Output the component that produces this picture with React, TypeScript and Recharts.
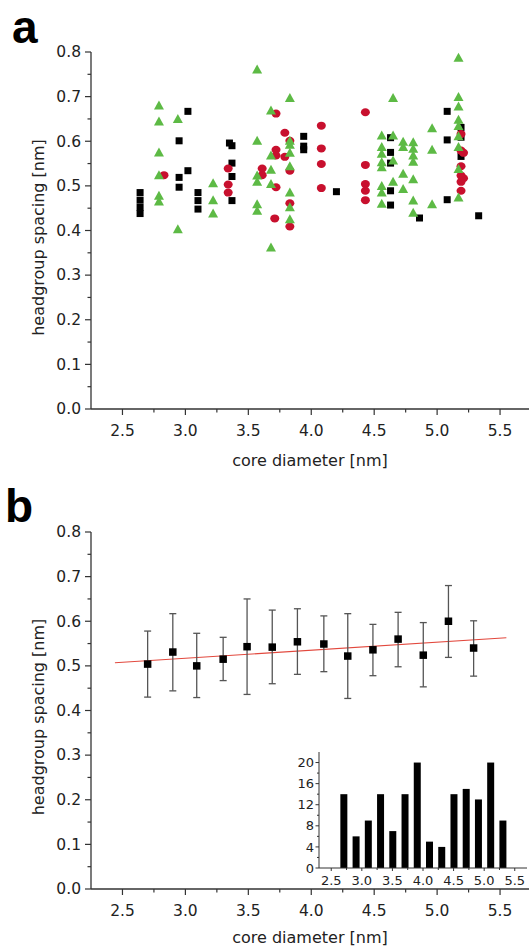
import React from 'react'
import { ScatterChart, Scatter, XAxis, YAxis, ErrorBar, ReferenceLine, BarChart, Bar } from 'recharts'

// panel a – black squares
const sqX = [2.64, 2.64, 2.64, 2.64, 2.95, 2.95, 2.95, 3.02, 3.02, 3.1, 3.1, 3.1, 3.35, 3.37, 3.37, 3.37, 3.37, 3.94, 3.94, 3.94, 4.2, 4.63, 4.63, 4.63, 4.63, 4.63, 4.86, 5.08, 5.08, 5.08, 5.19, 5.19, 5.19, 5.33]
const sqY = [0.485, 0.468, 0.452, 0.438, 0.601, 0.519, 0.497, 0.667, 0.534, 0.485, 0.467, 0.448, 0.596, 0.59, 0.551, 0.521, 0.467, 0.611, 0.589, 0.581, 0.487, 0.608, 0.575, 0.551, 0.489, 0.457, 0.428, 0.667, 0.603, 0.469, 0.631, 0.609, 0.566, 0.433]

// panel a – green triangles
const triX = [2.79, 2.79, 2.79, 2.79, 2.79, 2.79, 2.94, 2.94, 3.22, 3.22, 3.22, 3.57, 3.57, 3.57, 3.57, 3.57, 3.57, 3.68, 3.68, 3.68, 3.68, 3.68, 3.83, 3.83, 3.83, 3.83, 3.83, 3.83, 3.83, 3.83, 4.56, 4.56, 4.56, 4.56, 4.56, 4.56, 4.56, 4.56, 4.65, 4.65, 4.65, 4.65, 4.73, 4.73, 4.73, 4.73, 4.81, 4.81, 4.81, 4.81, 4.81, 4.81, 4.81, 4.96, 4.96, 4.96, 5.17, 5.17, 5.17, 5.17, 5.17, 5.17, 5.17, 5.17, 5.17]
const triY = [0.68, 0.644, 0.575, 0.524, 0.478, 0.465, 0.65, 0.403, 0.506, 0.468, 0.438, 0.761, 0.601, 0.523, 0.509, 0.459, 0.444, 0.669, 0.568, 0.536, 0.504, 0.362, 0.697, 0.601, 0.592, 0.574, 0.544, 0.485, 0.452, 0.425, 0.613, 0.587, 0.572, 0.553, 0.542, 0.5, 0.485, 0.46, 0.697, 0.613, 0.557, 0.509, 0.599, 0.587, 0.527, 0.493, 0.598, 0.583, 0.568, 0.554, 0.515, 0.467, 0.44, 0.629, 0.581, 0.459, 0.787, 0.699, 0.678, 0.648, 0.634, 0.611, 0.587, 0.538, 0.474]

// panel a – red circles
const cirX = [2.83, 3.34, 3.34, 3.34, 3.61, 3.61, 3.72, 3.72, 3.72, 3.72, 3.71, 3.79, 3.79, 3.83, 3.83, 3.83, 3.83, 4.08, 4.08, 4.08, 4.08, 4.43, 4.43, 4.43, 4.43, 4.43, 5.19, 5.19, 5.19, 5.19, 5.19, 5.19, 5.21, 5.21]
const cirY = [0.524, 0.539, 0.503, 0.485, 0.539, 0.524, 0.662, 0.581, 0.568, 0.497, 0.427, 0.619, 0.565, 0.601, 0.534, 0.461, 0.409, 0.635, 0.584, 0.549, 0.495, 0.665, 0.547, 0.504, 0.489, 0.468, 0.616, 0.579, 0.544, 0.523, 0.509, 0.489, 0.517, 0.574]

// panel b – binned means with error bars
const binX = [2.7, 2.9, 3.09, 3.3, 3.49, 3.69, 3.89, 4.1, 4.29, 4.49, 4.69, 4.89, 5.09, 5.29]
const binMean = [0.504, 0.531, 0.5, 0.515, 0.543, 0.542, 0.554, 0.549, 0.522, 0.536, 0.56, 0.524, 0.6, 0.54]
const binHigh = [0.578, 0.617, 0.573, 0.564, 0.65, 0.625, 0.628, 0.612, 0.617, 0.593, 0.62, 0.597, 0.68, 0.601]
const binLow = [0.43, 0.444, 0.429, 0.467, 0.436, 0.46, 0.481, 0.487, 0.427, 0.478, 0.498, 0.453, 0.519, 0.477]

// linear fit end points
const fitX = [2.44, 5.55]
const fitY = [0.507, 0.563]

// inset histogram
const histX = [2.7, 2.9, 3.1, 3.3, 3.5, 3.7, 3.9, 4.1, 4.3, 4.5, 4.7, 4.9, 5.1, 5.3]
const histN = [14, 6, 9, 14, 7, 14, 20, 5, 4, 14, 15, 13, 20, 9]

// ticks
const yTicks = [0, 0.05, 0.1, 0.15, 0.2, 0.25, 0.3, 0.35, 0.4, 0.45, 0.5, 0.55, 0.6, 0.65, 0.7, 0.75, 0.8]
const xTicks = [2.5, 2.75, 3.0, 3.25, 3.5, 3.75, 4.0, 4.25, 4.5, 4.75, 5.0, 5.25, 5.5]
const insetXTicks = [2.5, 2.75, 3.0, 3.25, 3.5, 3.75, 4.0, 4.25, 4.5, 4.75, 5.0, 5.25, 5.5]
const insetYTicks = [0, 2, 4, 6, 8, 10, 12, 14, 16, 18, 20]

const FONT = '"DejaVu Sans", Arial, sans-serif'
const AX = '#333'
const TXT = '#222'
const GREEN = '#5dba45'
const RED = '#c8102e'

const sqData = sqX.map((x, i) => ({ x, y: sqY[i] }))
const triData = triX.map((x, i) => ({ x, y: triY[i] }))
const cirData = cirX.map((x, i) => ({ x, y: cirY[i] }))
const binData = binX.map((x, i) => ({ x, y: binMean[i], err: [binMean[i] - binLow[i], binHigh[i] - binMean[i]] }))
const histData = histX.map((x, i) => ({ x, n: histN[i] }))

function YTick(props: any) {
  const { x, y, payload } = props
  const v = payload.value as number
  const major = Math.round(v * 100) % 10 === 0
  return (
    <g>
      <line x1={x} x2={x - (major ? 6 : 3.5)} y1={y} y2={y} stroke={AX} strokeWidth={1.2} />
      {major && (
        <text x={x - 10} y={y + 5.3} textAnchor="end" fontSize={15.5} fontFamily={FONT} fill={TXT}>
          {v.toFixed(1)}
        </text>
      )}
    </g>
  )
}

function XTick(props: any) {
  const { x, y, payload } = props
  const v = payload.value as number
  const major = Math.round(v * 100) % 50 === 0
  return (
    <g>
      <line x1={x} x2={x} y1={y} y2={y + (major ? 6 : 3.5)} stroke={AX} strokeWidth={1.2} />
      {major && (
        <text x={x} y={y + 26.5} textAnchor="middle" fontSize={15.5} fontFamily={FONT} fill={TXT}>
          {v.toFixed(1)}
        </text>
      )}
    </g>
  )
}

function InsetYTick(props: any) {
  const { x, y, payload } = props
  const v = payload.value as number
  const major = v % 4 === 0
  return (
    <g>
      <line x1={x} x2={x - (major ? 3.5 : 2)} y1={y} y2={y} stroke={AX} strokeWidth={1} />
      {major && (
        <text x={x - 5} y={y + 4.6} textAnchor="end" fontSize={13} fontFamily={FONT} fill={TXT}>
          {v}
        </text>
      )}
    </g>
  )
}

function InsetXTick(props: any) {
  const { x, y, payload } = props
  const v = payload.value as number
  const major = Math.round(v * 100) % 50 === 0
  return (
    <g>
      <line x1={x} x2={x} y1={y} y2={y + (major ? 3 : 2)} stroke={AX} strokeWidth={1} />
      {major && (
        <text x={x} y={y + 17} textAnchor="middle" fontSize={13} fontFamily={FONT} fill={TXT}>
          {v.toFixed(1)}
        </text>
      )}
    </g>
  )
}

const square = (size: number) => (p: any) => (
  <rect x={p.cx - size / 2} y={p.cy - size / 2} width={size} height={size} fill="#000" />
)
const triangle = (p: any) => (
  <polygon points={`${p.cx},${p.cy - 5} ${p.cx - 5},${p.cy + 4} ${p.cx + 5},${p.cy + 4}`} fill={GREEN} />
)
const circle = (p: any) => <ellipse cx={p.cx} cy={p.cy} rx={4.5} ry={4} fill={RED} />

const chartMargin = { top: 52, right: 0, bottom: 41, left: 0 }
const axisLine = { stroke: AX, strokeWidth: 1.3 }

export default function App() {
  return (
    <div style={{ position: 'absolute', left: 0, top: 0, width: 529, height: 950, background: '#fff' }}>
      <div style={{ position: 'absolute', left: 0, top: 0 }}>
        <ScatterChart width={529} height={480} margin={chartMargin}>
          <XAxis type="number" dataKey="x" domain={[2.25, 5.73]} ticks={xTicks} interval={0} tickSize={0} tickMargin={0} tick={<XTick />} axisLine={axisLine} height={30} allowDataOverflow />
          <YAxis type="number" dataKey="y" domain={[0, 0.8]} ticks={yTicks} interval={0} tickSize={0} tickMargin={0} tick={<YTick />} axisLine={axisLine} width={91} allowDataOverflow />
          <Scatter data={sqData} shape={square(7)} isAnimationActive={false} />
          <Scatter data={cirData} shape={circle} isAnimationActive={false} />
          <Scatter data={triData} shape={triangle} isAnimationActive={false} />
        </ScatterChart>
      </div>
      <div style={{ position: 'absolute', left: 0, top: 480 }}>
        <ScatterChart width={529} height={480} margin={chartMargin}>
          <XAxis type="number" dataKey="x" domain={[2.25, 5.73]} ticks={xTicks} interval={0} tickSize={0} tickMargin={0} tick={<XTick />} axisLine={axisLine} height={30} allowDataOverflow />
          <YAxis type="number" dataKey="y" domain={[0, 0.8]} ticks={yTicks} interval={0} tickSize={0} tickMargin={0} tick={<YTick />} axisLine={axisLine} width={91} allowDataOverflow />
          <ReferenceLine segment={[{ x: fitX[0], y: fitY[0] }, { x: fitX[1], y: fitY[1] }]} stroke="#e2483d" strokeWidth={1.2} />
          <Scatter data={binData} shape={square(7.5)} isAnimationActive={false}>
            <ErrorBar dataKey="err" direction="y" width={3.5} stroke="#555" strokeWidth={1.3} />
          </Scatter>
        </ScatterChart>
      </div>
      <div style={{ position: 'absolute', left: 290, top: 730 }}>
        <BarChart width={239} height={160} data={histData} margin={{ top: 22, right: 2, bottom: 2, left: 0 }}>
          <XAxis type="number" dataKey="x" domain={[2.3, 5.7]} ticks={insetXTicks} interval={0} tickSize={0} tickMargin={0} tick={<InsetXTick />} axisLine={{ stroke: AX, strokeWidth: 1 }} height={20} allowDataOverflow />
          <YAxis type="number" domain={[0, 22]} ticks={insetYTicks} interval={0} tickSize={0} tickMargin={0} tick={<InsetYTick />} axisLine={{ stroke: AX, strokeWidth: 1 }} width={29} allowDataOverflow />
          <Bar dataKey="n" fill="#000" barSize={7} isAnimationActive={false} />
        </BarChart>
      </div>
      <svg width={529} height={950} style={{ position: 'absolute', left: 0, top: 0, pointerEvents: 'none' }}>
        <text x={12} y={43} fontSize={46} fontWeight="bold" fontFamily='"Liberation Sans", Arial, sans-serif' fill="#000">a</text>
        <text x={5} y={522} fontSize={46} fontWeight="bold" fontFamily='"Liberation Sans", Arial, sans-serif' fill="#000">b</text>
        <text x={0} y={0} transform="translate(44,237.5) rotate(-90)" textAnchor="middle" fontSize={16} fontFamily={FONT} fill={TXT}>headgroup spacing [nm]</text>
        <text x={0} y={0} transform="translate(44,717) rotate(-90)" textAnchor="middle" fontSize={16} fontFamily={FONT} fill={TXT}>headgroup spacing [nm]</text>
        <text x={310} y={466} textAnchor="middle" fontSize={16} fontFamily={FONT} fill={TXT}>core diameter [nm]</text>
        <text x={310} y={943} textAnchor="middle" fontSize={16} fontFamily={FONT} fill={TXT}>core diameter [nm]</text>
      </svg>
    </div>
  )
}
